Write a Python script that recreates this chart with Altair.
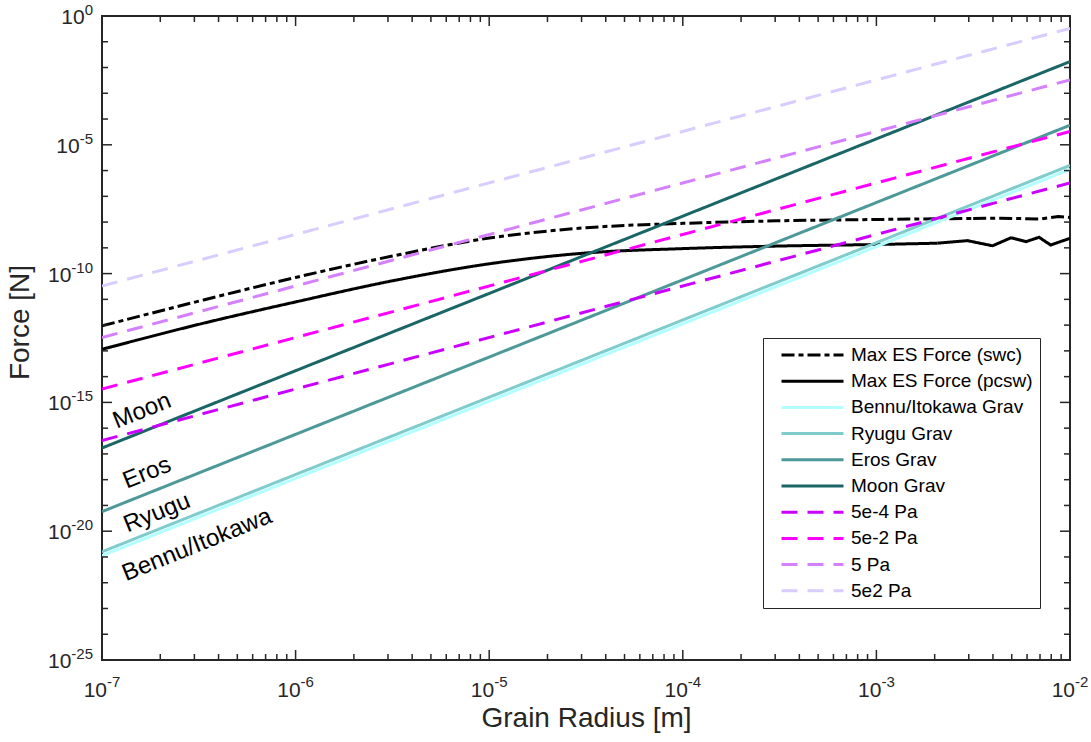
import altair as alt
import pandas as pd

FONT = "Liberation Sans"
INK = "#262626"

# ---------------- data (log10 values) ----------------
# smooth parts of the electrostatic-force curves
swc_logr = [-7.0, -6.5, -6.0, -5.5, -5.0, -4.5, -4.0, -3.5, -3.0, -2.5]
swc_logf = [-12.03, -11.07, -10.15, -9.32, -8.62, -8.22, -8.05, -7.95, -7.90, -7.86]
pcsw_logr = [-7.0, -6.5, -6.0, -5.5, -5.0, -4.5, -4.0, -3.5, -3.0, -2.685]
pcsw_logf = [-12.94, -11.97, -11.10, -10.28, -9.62, -9.20, -9.03, -8.93, -8.87, -8.82]
# noisy tails (large grains)
swc_tail_logr = [-2.5, -2.36, -2.15, -2.06, -2.0]
swc_tail_logf = [-7.86, -7.85, -7.88, -7.78, -7.82]
pcsw_tail_logr = [-2.685, -2.53, -2.40, -2.305, -2.227, -2.16, -2.10, -2.0]
pcsw_tail_logf = [-8.82, -8.72, -8.92, -8.61, -8.76, -8.59, -8.89, -8.63]

ends_logr = [-7.0, -2.0]
grav_series = ["Bennu/Itokawa Grav", "Ryugu Grav", "Eros Grav", "Moon Grav"]
grav_logf_start = [-20.95, -20.80, -19.24, -16.77]
grav_logf_end = [-5.95, -5.80, -4.24, -1.77]

press_series = ["5e-4 Pa", "5e-2 Pa", "5 Pa", "5e2 Pa"]
press_logf_start = [-16.48, -14.48, -12.48, -10.48]
press_logf_end = [-6.48, -4.48, -2.48, -0.48]

es_series = ["Max ES Force (swc)", "Max ES Force (pcsw)"]
series_order = es_series + grav_series + press_series
series_colors = ["#000000", "#000000", "#b3ffff", "#80cccc", "#4d9999", "#1a6666",
                 "#cc00ff", "#ff00ff", "#d580ff", "#d9ccff"]
series_dash = [[13, 4, 5, 4], [1, 0], [1, 0], [1, 0], [1, 0], [1, 0],
               [16, 10], [16, 10], [16, 10], [16, 10]]

annot_text = ["Moon", "Eros", "Ryugu", "Bennu/Itokawa"]
annot_logr = [-6.793, -6.767, -6.716, -6.509]
annot_logf = [-15.33, -17.74, -19.29, -20.54]

x_tick_vals = [1e-7, 1e-6, 1e-5, 1e-4, 1e-3, 1e-2]
x_tick_exps = ["-7", "-6", "-5", "-4", "-3", "-2"]
y_tick_vals = [1e-25, 1e-20, 1e-15, 1e-10, 1e-5, 1e0]
y_tick_exps = ["-25", "-20", "-15", "-10", "-5", "0"]
tick_base = "10"
y_minor_exp = [e for e in range(-25, 1) if e % 5 != 0]
x_minor_mult = [2, 3, 4, 5, 6, 7, 8, 9]
x_minor_exp = [-7, -6, -5, -4, -3]


# ---------------- tables ----------------
def series_rows(name, logr, logf):
    return [{"series": name, "r": 10 ** r, "f": 10 ** f} for r, f in zip(logr, logf)]


es_df = pd.DataFrame(series_rows(es_series[0], swc_logr, swc_logf)
                     + series_rows(es_series[1], pcsw_logr, pcsw_logf))
tail_df = pd.DataFrame(series_rows(es_series[0], swc_tail_logr, swc_tail_logf)
                       + series_rows(es_series[1], pcsw_tail_logr, pcsw_tail_logf))

rows = []
for s, a, b in zip(grav_series, grav_logf_start, grav_logf_end):
    rows += series_rows(s, ends_logr, [a, b])
for s, a, b in zip(press_series, press_logf_start, press_logf_end):
    rows += series_rows(s, ends_logr, [a, b])
straight_df = pd.DataFrame(rows)

annot_df = pd.DataFrame({"t": annot_text, "r": [10 ** v for v in annot_logr], "f": [10 ** v for v in annot_logf]})
xmaj_df = pd.DataFrame({"r": x_tick_vals})
xmin_df = pd.DataFrame({"r": [m * 10.0 ** e for e in x_minor_exp for m in x_minor_mult]})
ymaj_df = pd.DataFrame({"f": y_tick_vals})
ymin_df = pd.DataFrame({"f": [10.0 ** e for e in y_minor_exp]})

W, H = 968, 644
xs = alt.Scale(type="log", domain=[1e-7, 1e-2], nice=False)
ys = alt.Scale(type="log", domain=[1e-25, 1e0], nice=False)

BASE_FS, EXP_FS, TITLE_FS = 21, 15, 28


def text_w(s, fs):
    return sum(0.333 if c == "-" else 0.556 for c in s) * fs


x_axis = alt.Axis(
    values=x_tick_vals, labels=False, ticks=False, domain=False, grid=False,
    title="Grain Radius [m]", titleFont=FONT, titleFontSize=TITLE_FS, titleFontWeight="normal",
    titleColor=INK, titleY=44, titleBaseline="top")
y_axis = alt.Axis(
    values=y_tick_vals, labels=False, ticks=False, domain=False, grid=False,
    title="Force [N]", titleFont=FONT, titleFontSize=TITLE_FS, titleFontWeight="normal",
    titleColor=INK, titleX=-74, titleY=306, titleBaseline="alphabetic", titleAngle=270)

legend = alt.Legend(
    title=None, orient="none", legendX=661, legendY=322,
    symbolType="stroke", symbolSize=3844, symbolStrokeWidth=3, clipHeight=20,
    rowPadding=6.2, labelFontSize=19, labelFont=FONT, labelColor="black",
    padding=7, strokeColor=INK, fillColor="white", symbolOffset=10, labelOffset=6,
    labelLimit=400, cornerRadius=0,
)

X = alt.X("r:Q", scale=xs, axis=x_axis, title="Grain Radius [m]")
Y = alt.Y("f:Q", scale=ys, axis=y_axis, title="Force [N]")
COLOR = alt.Color("series:N", scale=alt.Scale(domain=series_order, range=series_colors),
                  sort=series_order, legend=legend)
DASH = alt.StrokeDash("series:N", scale=alt.Scale(domain=series_order, range=series_dash),
                      sort=series_order, legend=legend)

es_lines = alt.Chart(es_df).mark_line(strokeWidth=3, clip=True, interpolate="monotone").encode(
    x=X, y=Y, color=COLOR, strokeDash=DASH, order=alt.Order("r:Q"))
tail_lines = alt.Chart(tail_df).mark_line(strokeWidth=3, clip=True).encode(
    x=X, y=Y, color=COLOR, strokeDash=DASH, order=alt.Order("r:Q"))
straight_lines = alt.Chart(straight_df).mark_line(strokeWidth=3, clip=True).encode(
    x=X, y=Y, color=COLOR, strokeDash=DASH, order=alt.Order("r:Q"))

annots = alt.Chart(annot_df).mark_text(angle=338, font=FONT, fontSize=24, color="black",
                                        align="center", baseline="middle").encode(
    x=X, y=Y, text="t:N",
)


def xticks(df, length):
    bottom = alt.Chart(df).mark_rule(color=INK, strokeWidth=1.5).encode(
        x=X, y=alt.value(H), y2=alt.value(H - length))
    top = alt.Chart(df).mark_rule(color=INK, strokeWidth=1.5).encode(
        x=X, y=alt.value(0), y2=alt.value(length))
    return [bottom, top]


def yticks(df, length):
    left = alt.Chart(df).mark_rule(color=INK, strokeWidth=1.5).encode(
        y=Y, x=alt.value(0), x2=alt.value(length))
    right = alt.Chart(df).mark_rule(color=INK, strokeWidth=1.5).encode(
        y=Y, x=alt.value(W), x2=alt.value(W - length))
    return [left, right]


# --- tick labels as 10 + raised exponent ---
label_layers = []
xl_df = pd.DataFrame({"r": x_tick_vals, "base": [tick_base] * len(x_tick_vals), "e": x_tick_exps})
w10 = text_w(tick_base, BASE_FS)
wex = text_w(x_tick_exps[0], EXP_FS)
left_off = -(w10 + wex) / 2
label_layers.append(alt.Chart(xl_df).mark_text(
    font=FONT, fontSize=BASE_FS, color=INK, align="left", baseline="alphabetic", dx=left_off).encode(
    x=X, y=alt.value(H + 37), text="base:N"))
label_layers.append(alt.Chart(xl_df).mark_text(
    font=FONT, fontSize=EXP_FS, color=INK, align="left", baseline="alphabetic", dx=left_off + w10).encode(
    x=X, y=alt.value(H + 27), text="e:N"))

Y_RIGHT = -9
for v, e in zip(y_tick_vals, y_tick_exps):
    d = pd.DataFrame({"f": [v], "base": [tick_base], "e": [e]})
    we = text_w(e, EXP_FS)
    label_layers.append(alt.Chart(d).mark_text(
        font=FONT, fontSize=EXP_FS, color=INK, align="right", baseline="alphabetic", dy=-1).encode(
        y=Y, x=alt.value(Y_RIGHT), text="e:N"))
    label_layers.append(alt.Chart(d).mark_text(
        font=FONT, fontSize=BASE_FS, color=INK, align="right", baseline="alphabetic", dy=8).encode(
        y=Y, x=alt.value(Y_RIGHT - we), text="base:N"))

layers = ([es_lines, tail_lines, straight_lines, annots] + xticks(xmaj_df, 10) + xticks(xmin_df, 6)
          + yticks(ymaj_df, 10) + yticks(ymin_df, 6) + label_layers)

chart = alt.layer(*layers).properties(
    width=W, height=H,
    autosize=alt.AutoSizeParams(type="none"),
    padding={"left": 102, "top": 16, "right": 21, "bottom": 82},
    background="white",
).configure_view(stroke=INK, strokeWidth=2)

chart.save("out.html", embed_options={"renderer": "svg", "actions": False})
